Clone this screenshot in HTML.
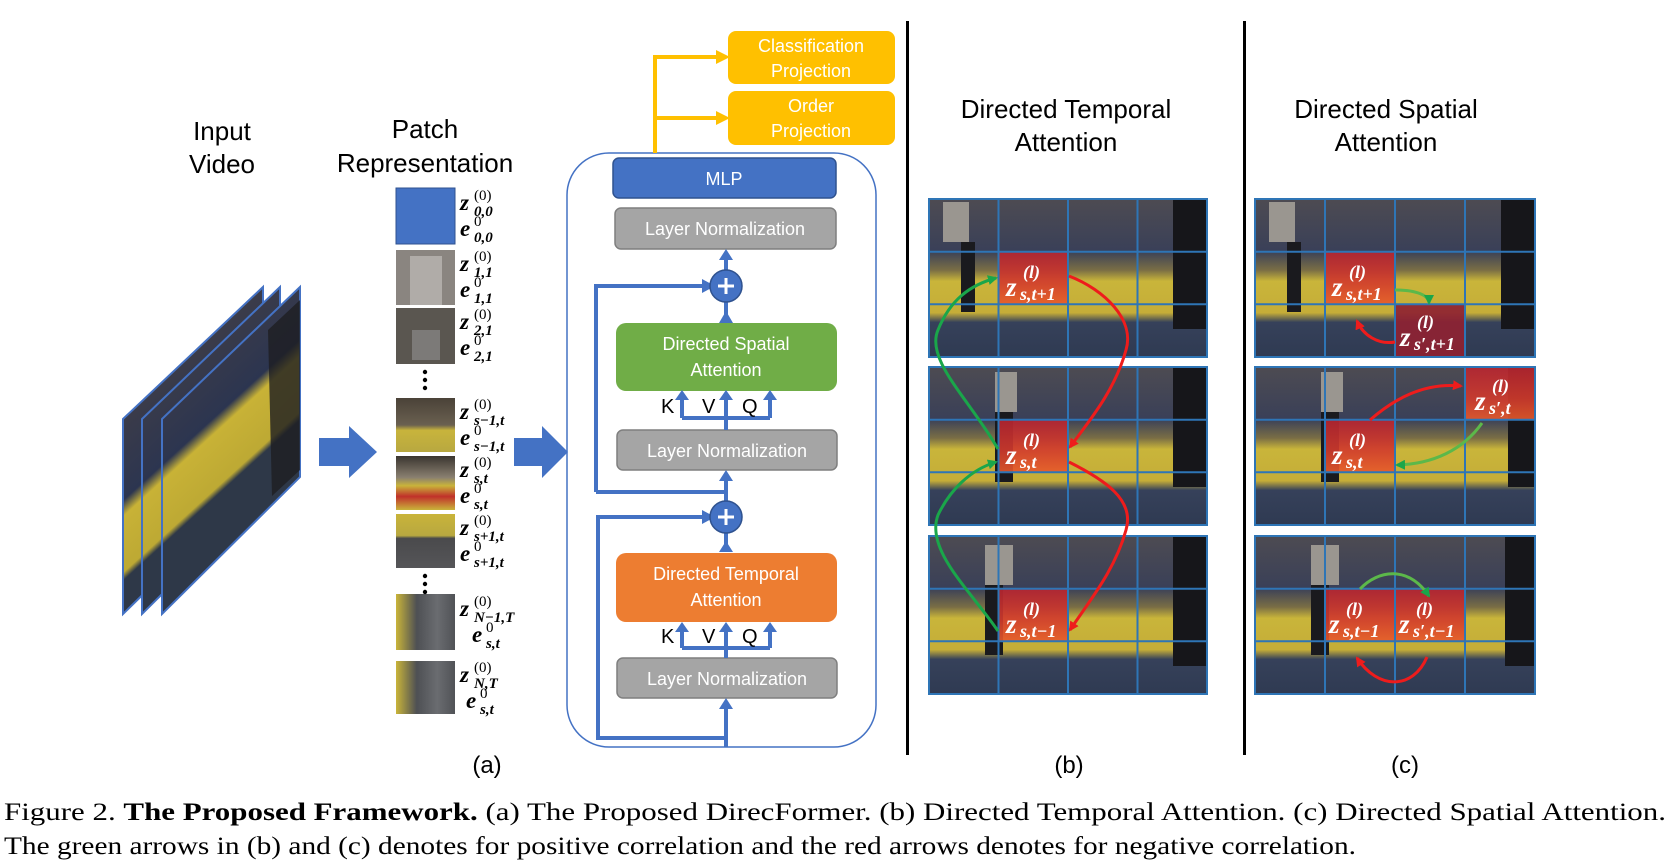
<!DOCTYPE html>
<html><head><meta charset="utf-8"><style>
html,body{margin:0;padding:0;background:#fff;}
svg{display:block;}
.t{font-family:"Liberation Sans",sans-serif;}
.bx{font-family:"Liberation Sans",sans-serif;fill:#fff;font-size:18px;text-anchor:middle;}
.m{font-family:"Liberation Serif",serif;font-weight:bold;font-style:italic;}
.n{font-family:"Liberation Serif",serif;}
.w{fill:#fff;}
</style></head><body>
<svg width="1671" height="861" viewBox="0 0 1671 861" xmlns="http://www.w3.org/2000/svg">
<defs>
<linearGradient id="vid" gradientUnits="userSpaceOnUse" x1="200" y1="330" x2="300" y2="440">
<stop offset="0" stop-color="#3e3d48"/><stop offset="0.5" stop-color="#2c3550"/><stop offset="0.58" stop-color="#c8b236"/><stop offset="0.86" stop-color="#bda934"/><stop offset="0.9" stop-color="#2e3848"/><stop offset="1" stop-color="#2e3848"/>
</linearGradient>
<linearGradient id="ph" x1="0" y1="0" x2="0" y2="1">
<stop offset="0" stop-color="#4d4b52"/><stop offset="0.33" stop-color="#3a4058"/><stop offset="0.45" stop-color="#7a6e45"/><stop offset="0.52" stop-color="#c9b53a"/><stop offset="0.72" stop-color="#c5ad38"/><stop offset="0.78" stop-color="#36415a"/><stop offset="1" stop-color="#2f3a52"/>
</linearGradient>
<linearGradient id="hl" x1="0" y1="0" x2="0" y2="1">
<stop offset="0" stop-color="#b82430"/><stop offset="0.6" stop-color="#d23a2c"/><stop offset="1" stop-color="#e85a2a"/>
</linearGradient>
<linearGradient id="p4" x1="0" y1="0" x2="0" y2="1"><stop offset="0" stop-color="#4a4238"/><stop offset="0.5" stop-color="#6a6050"/><stop offset="0.6" stop-color="#c8b43c"/><stop offset="1" stop-color="#b8a840"/></linearGradient>
<linearGradient id="p5" x1="0" y1="0" x2="0" y2="1"><stop offset="0" stop-color="#3a3530"/><stop offset="0.4" stop-color="#8a8070"/><stop offset="0.55" stop-color="#c9b43a"/><stop offset="0.75" stop-color="#c0302a"/><stop offset="1" stop-color="#c9b43a"/></linearGradient>
<linearGradient id="p6" x1="0" y1="0" x2="0" y2="1"><stop offset="0" stop-color="#c9b43a"/><stop offset="0.4" stop-color="#b8a840"/><stop offset="0.45" stop-color="#4a4a4c"/><stop offset="1" stop-color="#555558"/></linearGradient>
<linearGradient id="p7" x1="0" y1="0" x2="1" y2="0"><stop offset="0" stop-color="#c9b43a"/><stop offset="0.35" stop-color="#4e5054"/><stop offset="0.7" stop-color="#6a6c70"/><stop offset="1" stop-color="#505256"/></linearGradient>
<marker id="ag" markerWidth="10" markerHeight="10" refX="8" refY="5" orient="auto" markerUnits="userSpaceOnUse"><path d="M0,0 L10,5 L0,10 Z" fill="#1aa64a"/></marker>
<marker id="ar" markerWidth="10" markerHeight="10" refX="8" refY="5" orient="auto" markerUnits="userSpaceOnUse"><path d="M0,0 L10,5 L0,10 Z" fill="#ee1c1c"/></marker>
</defs>

<!-- Titles -->
<g class="t" font-size="26" text-anchor="middle" fill="#000">
<text x="222" y="140">Input</text><text x="222" y="173">Video</text>
<text x="425" y="138">Patch</text><text x="425" y="172">Representation</text>
<text x="1066" y="118">Directed Temporal</text><text x="1066" y="151">Attention</text>
<text x="1386" y="118">Directed Spatial</text><text x="1386" y="151">Attention</text>
<text x="487" y="773" font-size="24">(a)</text>
<text x="1069" y="773" font-size="24">(b)</text>
<text x="1405" y="773" font-size="24">(c)</text>
</g>

<!-- Input video stack -->
<g stroke="#4472C4" stroke-width="2">
<polygon points="123,419 263,287 263,477 123,614" fill="url(#vid)"/>
<polygon points="142,419 280,287 280,477 142,614" fill="url(#vid)"/>
<polygon points="162,419 300,287 300,477 162,614" fill="url(#vid)"/>
</g>
<polygon points="268,330 300,300 300,470 272,496" fill="#1e1e22" opacity="0.8"/>

<!-- big arrows -->
<polygon points="319,438 349,438 349,426 377,452 349,478 349,466 319,466" fill="#4472C4"/>
<polygon points="514,438 542,438 542,426 568,452 542,478 542,466 514,466" fill="#4472C4"/>

<!-- patches -->
<rect x="396" y="188" width="59" height="56" fill="#4472C4" stroke="#2f528f" stroke-width="1"/>
<rect x="396" y="250" width="59" height="55" fill="#8a8580"/>
<rect x="410" y="256" width="32" height="49" fill="#b0aca8"/>
<rect x="396" y="308" width="59" height="56" fill="#5a5650"/>
<rect x="412" y="330" width="28" height="30" fill="#7c7a78"/>
<rect x="396" y="398" width="59" height="54" fill="url(#p4)"/>
<rect x="396" y="456" width="59" height="54" fill="url(#p5)"/>
<rect x="396" y="514" width="59" height="54" fill="url(#p6)"/>
<rect x="396" y="594" width="59" height="56" fill="url(#p7)"/>
<rect x="396" y="661" width="59" height="53" fill="url(#p7)"/>
<g fill="#000"><circle cx="425" cy="372" r="2.2"/><circle cx="425" cy="380" r="2.2"/><circle cx="425" cy="388" r="2.2"/>
<circle cx="425" cy="576" r="2.2"/><circle cx="425" cy="584" r="2.2"/><circle cx="425" cy="592" r="2.2"/></g>

<g fill="#000">
<g class="m" font-size="23">
<text x="460" y="210">z</text><text x="460" y="236">e</text>
<text x="460" y="271">z</text><text x="460" y="297">e</text>
<text x="460" y="329">z</text><text x="460" y="355">e</text>
<text x="460" y="419">z</text><text x="460" y="445">e</text>
<text x="460" y="477">z</text><text x="460" y="503">e</text>
<text x="460" y="535">z</text><text x="460" y="561">e</text>
<text x="460" y="616">z</text><text x="472" y="642">e</text>
<text x="460" y="682">z</text><text x="466" y="708">e</text>
</g>
<g class="n" font-size="15">
<text x="474" y="200">(0)</text><text x="474" y="226">0</text>
<text x="474" y="261">(0)</text><text x="474" y="287">0</text>
<text x="474" y="319">(0)</text><text x="474" y="345">0</text>
<text x="474" y="409">(0)</text><text x="474" y="435">0</text>
<text x="474" y="467">(0)</text><text x="474" y="493">0</text>
<text x="474" y="525">(0)</text><text x="474" y="551">0</text>
<text x="474" y="606">(0)</text><text x="486" y="632">0</text>
<text x="474" y="672">(0)</text><text x="480" y="698">0</text>
</g>
<g class="m" font-size="15" font-style="italic">
<text x="474" y="216">0,0</text><text x="474" y="242">0,0</text>
<text x="474" y="277">1,1</text><text x="474" y="303">1,1</text>
<text x="474" y="335">2,1</text><text x="474" y="361">2,1</text>
<text x="474" y="425">s−1,t</text><text x="474" y="451">s−1,t</text>
<text x="474" y="483">s,t</text><text x="474" y="509">s,t</text>
<text x="474" y="541">s+1,t</text><text x="474" y="567">s+1,t</text>
<text x="474" y="622">N−1,T</text><text x="486" y="648">s,t</text>
<text x="474" y="688">N,T</text><text x="480" y="714">s,t</text>
</g>
</g>

<!-- Encoder block -->
<rect x="567" y="153" width="309" height="594" rx="42" fill="none" stroke="#4472C4" stroke-width="1.5"/>
<g stroke="#FFC000" stroke-width="4" fill="none">
<path d="M655,153 V57 H722"/><path d="M655,118 H722"/>
</g>
<polygon points="716,50 730,57 716,64" fill="#FFC000"/>
<polygon points="716,111 730,118 716,125" fill="#FFC000"/>
<rect x="728" y="31" width="167" height="53" rx="8" fill="#FFC000"/>
<rect x="728" y="91" width="167" height="54" rx="8" fill="#FFC000"/>
<text class="bx" x="811" y="52">Classification</text><text class="bx" x="811" y="77">Projection</text>
<text class="bx" x="811" y="112">Order</text><text class="bx" x="811" y="137">Projection</text>

<rect x="613" y="158" width="223" height="40" rx="6" fill="#4472C4" stroke="#2f528f" stroke-width="1.5"/>
<text class="bx" x="724" y="185">MLP</text>
<rect x="615" y="208" width="221" height="41" rx="6" fill="#A5A5A5" stroke="#7f7f7f" stroke-width="1.5"/>
<text class="bx" x="725" y="235">Layer Normalization</text>
<rect x="616" y="323" width="221" height="68" rx="10" fill="#70AD47"/>
<text class="bx" x="726" y="350">Directed Spatial</text><text class="bx" x="726" y="376">Attention</text>
<rect x="617" y="430" width="220" height="40" rx="6" fill="#A5A5A5" stroke="#7f7f7f" stroke-width="1.5"/>
<text class="bx" x="727" y="457">Layer Normalization</text>
<rect x="616" y="553" width="221" height="69" rx="10" fill="#ED7D31"/>
<text class="bx" x="726" y="580">Directed Temporal</text><text class="bx" x="726" y="606">Attention</text>
<rect x="617" y="658" width="220" height="40" rx="6" fill="#A5A5A5" stroke="#7f7f7f" stroke-width="1.5"/>
<text class="bx" x="727" y="685">Layer Normalization</text>

<g stroke="#4472C4" stroke-width="4" fill="none">
<path d="M726,302 V316"/><path d="M726,270 V256"/>
<path d="M596,492 V286 H704"/>
<path d="M726,430 V418 M682,418 H770 M682,418 V398 M726,418 V398 M770,418 V398"/>
<path d="M726,501 V478"/>
<path d="M726,533 V546"/>
<path d="M598,740 V517 H704"/>
<path d="M596,492 H726"/>
<path d="M726,658 V648 M682,648 H770 M682,648 V630 M726,648 V630 M770,648 V630"/>
<path d="M598,738 H726 V706"/>
<path d="M726,747 V740"/>
</g>
<g fill="#4472C4">
<polygon points="719,323 726,311 733,323"/>
<polygon points="719,260 726,249 733,260"/>
<polygon points="702,279 715,286 702,293"/>
<polygon points="675,400 682,390 689,400"/><polygon points="719,400 726,390 733,400"/><polygon points="763,400 770,390 777,400"/>
<polygon points="719,481 726,470 733,481"/>
<polygon points="719,552 726,541 733,552"/>
<polygon points="702,510 715,517 702,524"/>
<polygon points="675,632 682,622 689,632"/><polygon points="719,632 726,622 733,632"/><polygon points="763,632 770,622 777,632"/>
<polygon points="719,709 726,698 733,709"/>
<circle cx="726" cy="286" r="16" stroke="#2f528f" stroke-width="1.5"/>
<circle cx="726" cy="517" r="16" stroke="#2f528f" stroke-width="1.5"/>
</g>
<g stroke="#fff" stroke-width="3"><path d="M718,286 H734 M726,278 V294"/><path d="M718,517 H734 M726,509 V525"/></g>
<g class="t" font-size="20" fill="#000"><text x="661" y="413">K</text><text x="702" y="413">V</text><text x="742" y="413">Q</text>
<text x="661" y="643">K</text><text x="702" y="643">V</text><text x="742" y="643">Q</text></g>

<!-- separators -->
<rect x="906" y="21" width="3" height="734" fill="#000"/>
<rect x="1243" y="21" width="3" height="734" fill="#000"/>

<g transform="translate(-5,0)">
<rect x="934" y="199" width="278" height="158" fill="url(#ph)"/>
<rect x="934" y="367" width="278" height="158" fill="url(#ph)"/>
<rect x="934" y="536" width="278" height="158" fill="url(#ph)"/>
<g fill="#16161a"><rect x="1178" y="199" width="34" height="130"/><rect x="1178" y="367" width="34" height="120"/><rect x="1178" y="536" width="34" height="130"/></g>
<g fill="#9a9690"><rect x="948" y="202" width="26" height="40"/><rect x="1000" y="372" width="22" height="40"/><rect x="990" y="545" width="28" height="40"/></g>
<g fill="#1a1a1e"><rect x="966" y="242" width="14" height="70"/><rect x="1000" y="412" width="18" height="70"/><rect x="990" y="585" width="18" height="70"/></g>
<g fill="url(#hl)" opacity="0.9">
<rect x="1003.5" y="251.7" width="69.5" height="52.6"/>
<rect x="1003.5" y="419.7" width="69.5" height="52.6"/>
<rect x="1003.5" y="588.7" width="69.5" height="52.6"/>
</g>
<g stroke="#2E75B6" stroke-width="2" fill="none">
<path d="M934,199 h278 v158 h-278 z M1003.5,199 v158 M1073,199 v158 M1142.5,199 v158 M934,251.7 h278 M934,304.3 h278"/>
<path d="M934,367 h278 v158 h-278 z M1003.5,367 v158 M1073,367 v158 M1142.5,367 v158 M934,419.7 h278 M934,472.3 h278"/>
<path d="M934,536 h278 v158 h-278 z M1003.5,536 v158 M1073,536 v158 M1142.5,536 v158 M934,588.7 h278 M934,641.3 h278"/>
</g>
<g class="w">
<g class="m" font-size="27"><text x="1011" y="296">z</text><text x="1011" y="464">z</text><text x="1011" y="633">z</text></g>
<g class="m" font-size="18"><text x="1028" y="278">(l)</text><text x="1028" y="446">(l)</text><text x="1028" y="615">(l)</text>
<text x="1025" y="300">s,t+1</text><text x="1025" y="468">s,t</text><text x="1025" y="637">s,t−1</text></g>
</g>
<g fill="none" stroke-width="3">
<path d="M1003,449 C975,400 930,360 943,330 C955,300 975,285 1001,278" stroke="#1aa64a" marker-end="url(#ag)"/>
<path d="M1003,631 C975,590 930,550 943,515 C955,490 975,470 1001,462" stroke="#1aa64a" marker-end="url(#ag)"/>
<path d="M1074,276 C1110,290 1140,320 1131,350 C1120,390 1095,420 1075,447" stroke="#ee1c1c" marker-end="url(#ar)"/>
<path d="M1074,462 C1110,480 1140,500 1131,530 C1120,570 1095,600 1075,630" stroke="#ee1c1c" marker-end="url(#ar)"/>
</g>
</g>

<g transform="translate(-7,0)">
<rect x="1262" y="199" width="280" height="158" fill="url(#ph)"/>
<rect x="1262" y="367" width="280" height="158" fill="url(#ph)"/>
<rect x="1262" y="536" width="280" height="158" fill="url(#ph)"/>
<g fill="#16161a"><rect x="1508" y="199" width="34" height="130"/><rect x="1515" y="367" width="27" height="120"/><rect x="1512" y="536" width="30" height="130"/></g>
<g fill="#9a9690"><rect x="1276" y="202" width="26" height="40"/><rect x="1328" y="372" width="22" height="40"/><rect x="1318" y="545" width="28" height="40"/></g>
<g fill="#1a1a1e"><rect x="1294" y="242" width="14" height="70"/><rect x="1328" y="412" width="18" height="70"/><rect x="1318" y="585" width="18" height="70"/></g>
<g fill="url(#hl)" opacity="0.9">
<rect x="1332" y="251.7" width="70" height="52.6"/>
<rect x="1332" y="419.7" width="70" height="52.6"/>
<rect x="1472" y="367" width="70" height="52.7"/>
<rect x="1332" y="588.7" width="140" height="52.6"/>
</g>
<rect x="1402" y="304.3" width="70" height="52.7" fill="#8e2232" opacity="0.92"/>
<g stroke="#2E75B6" stroke-width="2" fill="none">
<path d="M1262,199 h280 v158 h-280 z M1332,199 v158 M1402,199 v158 M1472,199 v158 M1262,251.7 h280 M1262,304.3 h280"/>
<path d="M1262,367 h280 v158 h-280 z M1332,367 v158 M1402,367 v158 M1472,367 v158 M1262,419.7 h280 M1262,472.3 h280"/>
<path d="M1262,536 h280 v158 h-280 z M1332,536 v158 M1402,536 v158 M1472,536 v158 M1262,588.7 h280 M1262,641.3 h280"/>
</g>
<g class="w">
<g class="m" font-size="27"><text x="1339" y="296">z</text><text x="1407" y="346">z</text><text x="1339" y="464">z</text><text x="1482" y="410">z</text><text x="1336" y="633">z</text><text x="1406" y="633">z</text></g>
<g class="m" font-size="18">
<text x="1356" y="278">(l)</text><text x="1353" y="300">s,t+1</text>
<text x="1424" y="328">(l)</text><text x="1421" y="350">s′,t+1</text>
<text x="1356" y="446">(l)</text><text x="1353" y="468">s,t</text>
<text x="1499" y="392">(l)</text><text x="1496" y="414">s′,t</text>
<text x="1353" y="615">(l)</text><text x="1350" y="637">s,t−1</text>
<text x="1423" y="615">(l)</text><text x="1420" y="637">s′,t−1</text>
</g>
</g>
<g fill="none" stroke-width="3">
<path d="M1402,290 C1425,290 1436,296 1436,303" stroke="#5cb84a" marker-end="url(#ag)"/>
<path d="M1402,342 C1385,345 1370,335 1364,321" stroke="#ee1c1c" marker-end="url(#ar)"/>
<path d="M1377,420 C1400,400 1430,382 1468,386" stroke="#ee1c1c" marker-end="url(#ar)"/>
<path d="M1489,423 C1470,450 1440,464 1404,465" stroke="#5cb84a" marker-end="url(#ag)"/>
<path d="M1367,589 C1385,570 1415,565 1436,596" stroke="#5cb84a" marker-end="url(#ag)"/>
<path d="M1434,657 C1420,690 1385,690 1364,658" stroke="#ee1c1c" marker-end="url(#ar)"/>
</g>
</g>

<!-- caption -->
<g font-family="Liberation Serif, serif" font-size="25" fill="#000">
<text x="4" y="820" textLength="1662" lengthAdjust="spacingAndGlyphs">Figure 2. <tspan font-weight="bold">The Proposed Framework.</tspan> (a) The Proposed DirecFormer. (b) Directed Temporal Attention. (c) Directed Spatial Attention.</text>
<text x="4" y="854" textLength="1352" lengthAdjust="spacingAndGlyphs">The green arrows in (b) and (c) denotes for positive correlation and the red arrows denotes for negative correlation.</text>
</g>
</svg>
</body></html>
